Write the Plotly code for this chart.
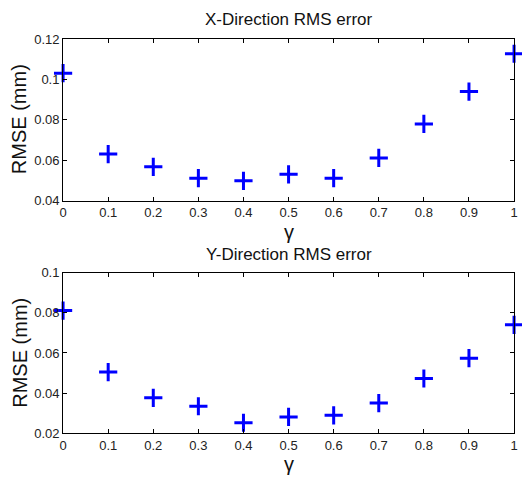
import plotly.graph_objects as go
from plotly.subplots import make_subplots

gamma = [0.0, 0.1, 0.2, 0.3, 0.4, 0.5, 0.6, 0.7, 0.8, 0.9, 1.0]
rmse_x = [0.1031, 0.0631, 0.0568, 0.0512, 0.0499, 0.0531, 0.0512, 0.0612, 0.0780, 0.0940, 0.1127]
rmse_y = [0.0811, 0.0505, 0.0377, 0.0335, 0.0253, 0.0282, 0.0290, 0.0351, 0.0473, 0.0574, 0.0740]

x_ticks = [0, 0.1, 0.2, 0.3, 0.4, 0.5, 0.6, 0.7, 0.8, 0.9, 1]
x_tick_text = ["0", "0.1", "0.2", "0.3", "0.4", "0.5", "0.6", "0.7", "0.8", "0.9", "1"]
top_y_ticks = [0.04, 0.06, 0.08, 0.10, 0.12]
top_y_text = ["0.04", "0.06", "0.08", "0.1", "0.12"]
bot_y_ticks = [0.02, 0.04, 0.06, 0.08, 0.10]
bot_y_text = ["0.02", "0.04", "0.06", "0.08", "0.1"]

W, H = 522, 486
font_family = "Liberation Sans, Arial, sans-serif"

fig = make_subplots(rows=2, cols=1)

marker = dict(symbol="cross-thin", size=13, color="#0000FF",
              line=dict(color="#0000FF", width=3))

fig.add_trace(go.Scatter(x=gamma, y=rmse_x, mode="markers", marker=marker,
                         cliponaxis=False, showlegend=False), row=1, col=1)
fig.add_trace(go.Scatter(x=gamma, y=rmse_y, mode="markers", marker=marker,
                         cliponaxis=False, showlegend=False), row=2, col=1)

axis_common = dict(showline=True, linecolor="black", linewidth=1, mirror="ticks",
                   ticks="inside", ticklen=4, tickcolor="black", showgrid=False,
                   zeroline=False, tickfont=dict(size=13, color="#222", family=font_family))

left_px, right_px = 60, 518
xdom = [left_px / W, right_px / W]

fig.update_layout(
    width=W, height=H,
    margin=dict(l=0, r=0, t=0, b=0),
    paper_bgcolor="white", plot_bgcolor="white",
    font=dict(family=font_family, color="#111"),
    xaxis=dict(domain=xdom, range=[0, 1], tickvals=x_ticks, ticktext=x_tick_text,
               anchor="y", **axis_common),
    yaxis=dict(domain=[1 - 200 / H, 1 - 33 / H], range=[0.04, 0.12],
               tickvals=top_y_ticks, ticktext=top_y_text, anchor="x", **axis_common),
    xaxis2=dict(domain=xdom, range=[0, 1], tickvals=x_ticks, ticktext=x_tick_text,
                anchor="y2", **axis_common),
    yaxis2=dict(domain=[1 - 440 / H, 1 - 274 / H], range=[0.02, 0.10],
                tickvals=bot_y_ticks, ticktext=bot_y_text, anchor="x2", **axis_common),
)

def ann(text, x, y, size, angle=0):
    fig.add_annotation(text=text, x=x / W, y=1 - y / H, xref="paper", yref="paper",
                       showarrow=False, textangle=angle,
                       font=dict(size=size, color="#111", family=font_family),
                       xanchor="center", yanchor="middle")

ann("X-Direction RMS error", 289, 13, 17)
ann("Y-Direction RMS error", 289, 255, 17)
ann("RMSE (mm)", 16, 116, 20, -90)
ann("RMSE (mm)", 16, 357, 20, -90)
ann("γ", 289, 232, 20)
ann("γ", 289, 472, 20)

fig.write_html("out.html")
